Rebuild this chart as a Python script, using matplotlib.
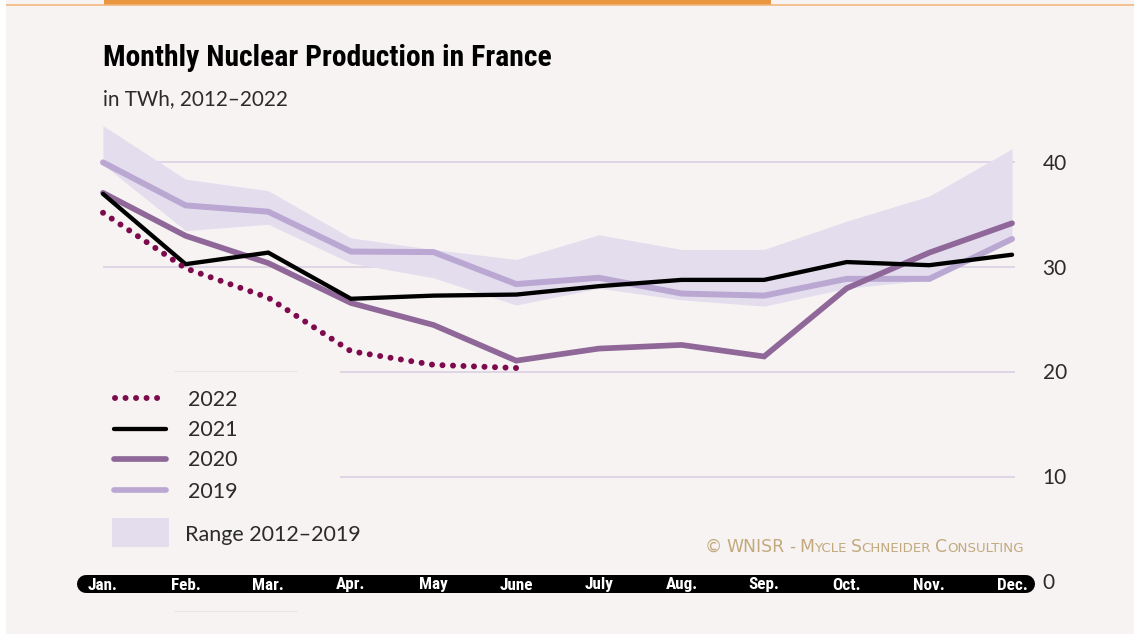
import matplotlib
matplotlib.use("Agg")
import matplotlib.pyplot as plt
from matplotlib import font_manager
from matplotlib.lines import Line2D
from matplotlib.patches import Rectangle
from matplotlib.transforms import Affine2D

# ---------------- data ----------------
months = ["Jan.", "Feb.", "Mar.", "Apr.", "May", "June", "July", "Aug.", "Sep.", "Oct.", "Nov.", "Dec."]
y2022 = [35.2, 29.9, 27.1, 22.0, 20.7, 20.4]
y2021 = [37.0, 30.3, 31.4, 27.0, 27.3, 27.4, 28.2, 28.8, 28.8, 30.5, 30.2, 31.2]
y2020 = [37.1, 33.0, 30.4, 26.6, 24.5, 21.1, 22.25, 22.6, 21.5, 28.0, 31.4, 34.2]
y2019 = [40.0, 35.9, 35.3, 31.5, 31.45, 28.4, 29.0, 27.5, 27.3, 28.9, 28.9, 32.7]
range_hi = [43.5, 38.4, 37.3, 32.8, 31.7, 30.75, 33.1, 31.7, 31.7, 34.4, 36.8, 41.3]
range_lo = [39.8, 33.5, 34.1, 30.4, 29.0, 26.4, 28.0, 26.9, 26.3, 28.0, 28.8, 32.5]
yticks = [0, 10, 20, 30, 40]
legend_labels = ["2022", "2021", "2020", "2019"]
range_label = "Range 2012–2019"
title = "Monthly Nuclear Production in France"
subtitle = "in TWh, 2012–2022"
credit = "© WNISR - Mycle Schneider Consulting"

# ---------------- fonts ----------------
names = {f.name for f in font_manager.fontManager.ttflist}
cond_entries = [f for f in font_manager.fontManager.ttflist
                if f.name == "DejaVu Sans" and "condensed" in str(f.stretch)]
if "Roboto Condensed" in names:
    COND = dict(family="Roboto Condensed")
elif cond_entries:
    COND = dict(family="DejaVu Sans", stretch="condensed")
else:
    COND = dict(family="Roboto")
REG = "Lato" if "Lato" in names else "DejaVu Sans"

# ---------------- colours ----------------
BG = "#f7f3f2"
C2022 = "#7d0a4c"
C2021 = "#000000"
C2020 = "#8f6899"
C2019 = "#baa8d3"
CBAND = "#e3ddee"
CGRID = "#d9cfe3"
TXT = "#2b2b2b"

W, H = 1134, 634
fig = plt.figure(figsize=(W / 100, H / 100), dpi=100, facecolor=BG)
PX = Affine2D().scale(1 / W, -1 / H).translate(0, 1) + fig.transFigure

# axes mapped: month i -> px 103 + 82.64 i ; value v -> px 582 - 10.49 v
left_px, right_px, top_px, bot_px = 77, 1040, 110, 600
ax = fig.add_axes([left_px / W, 1 - bot_px / H, (right_px - left_px) / W, (bot_px - top_px) / H])
ax.set_facecolor("none")
ax.set_xlim((left_px - 103) / 82.64, (right_px - 103) / 82.64)
ax.set_ylim((582 - bot_px) / 10.49, (582 - top_px) / 10.49)
ax.axis("off")

x = list(range(len(months)))

# gridlines
for v in [30, 40]:
    ax.plot([0, 11.04], [v, v], color=CGRID, lw=1.2, zorder=1, solid_capstyle="butt")
for v in [10, 20]:
    ax.plot([2.87, 11.04], [v, v], color=CGRID, lw=1.2, zorder=1, solid_capstyle="butt")

ax.fill_between(x, range_lo, range_hi, color=CBAND, lw=0, zorder=2)
ax.plot(x, y2019, color=C2019, lw=4.3, zorder=3, solid_joinstyle="miter", solid_capstyle="round")
ax.plot(x, y2020, color=C2020, lw=4.1, zorder=4, solid_joinstyle="miter", solid_capstyle="round")
ax.plot(x, y2021, color=C2021, lw=3.1, zorder=5, solid_joinstyle="miter", solid_capstyle="round")
ax.plot(x[:len(y2022)], y2022, color=C2022, lw=4.3, zorder=6,
        linestyle=(0, (0.01, 1.75)), dash_capstyle="round")

# y tick labels on the right
for v in yticks:
    ax.text(11.37, v - 0.12, str(v), ha="left", va="center", fontsize=15, family=REG,
            color=TXT)

# month bar (behind the axes so the labels show on it)
fig.add_artist(Line2D([86, 1026], [584, 584], lw=18 * 0.72, color="black",
                      solid_capstyle="round", transform=PX, zorder=-1))
for i, m in enumerate(months):
    ax.text(i, (582 - 585) / 10.49, m, ha="center", va="center", color="white",
            fontsize=12.3, fontweight="bold", **COND, zorder=10)

# top decoration
fig.add_artist(Rectangle((0, 0), 6, H, color="white", transform=PX, lw=0, zorder=-2))
fig.add_artist(Line2D([6, W], [4.5, 4.5], lw=1.6 * 0.72, color="#f2b47a", transform=PX,
                      solid_capstyle="butt"))
fig.add_artist(Rectangle((104, 0), 667, 4.8, color="#e8963f", transform=PX, lw=0))

# faint legend box edges
for yy in [371, 611]:
    fig.add_artist(Line2D([174, 297], [yy, yy], lw=0.8, color="#ebe5e6", transform=PX))

# titles
fig.text(103 / W, 1 - 58 / H, title, ha="left", va="center", fontsize=21.3,
         fontweight="bold", color="black", **COND)
fig.text(103 / W, 1 - 99 / H, subtitle, ha="left", va="center", fontsize=14.9,
         color=TXT, family=REG)

# legend
leg_y = [398, 429, 459, 490]
styles = [
    dict(color=C2022, lw=4.3, linestyle=(0, (0.01, 1.75)), dash_capstyle="round"),
    dict(color=C2021, lw=3.1, solid_capstyle="round"),
    dict(color=C2020, lw=4.1, solid_capstyle="round"),
    dict(color=C2019, lw=4.1, solid_capstyle="round"),
]
for lab, yy, st in zip(legend_labels, leg_y, styles):
    x0 = 115 if lab == "2022" else 114
    fig.add_artist(Line2D([x0, 166], [yy, yy], transform=PX, **st))
    fig.text(188 / W, 1 - (yy + 1.5) / H, lab, ha="left", va="center", fontsize=15.5,
             family=REG, color=TXT)
fig.add_artist(Rectangle((112, 518), 57, 29, color=CBAND, transform=PX, lw=0))
fig.text(185 / W, 1 - 535 / H, range_label, ha="left", va="center", fontsize=15.5,
         family=REG, color=TXT)

# credit in small caps, fitted to span px 703..1024
renderer = fig.canvas.get_renderer()
segments = []
for word_i, word in enumerate(credit.split(" ")):
    if word_i:
        segments.append((" ", False))
    if word.isupper() or not word[0].isalpha():
        segments.append((word, True))
    else:
        segments.append((word[0], True))
        segments.append((word[1:].upper(), False))
big, small = 9.0, 7.0

def seg_widths(scale):
    ws = []
    for s, is_big in segments:
        t = fig.text(0, 0, s.replace(" ", "\u00a0"), fontsize=(big if is_big else small) * scale,
                     family="DejaVu Sans")
        ws.append(t.get_window_extent(renderer).width)
        t.remove()
    return ws

target = 1024 - 703
ws = seg_widths(1.0)
scale = target / sum(ws)
ws = seg_widths(scale)
xpos = 1024 - sum(ws)
for (s, is_big), w in zip(segments, ws):
    fig.text(xpos / W, 1 - 552 / H, s.replace(" ", "\u00a0"),
             fontsize=(big if is_big else small) * scale, family="DejaVu Sans",
             color="#c2aa7e", ha="left", va="baseline")
    xpos += w

fig.savefig("out.png", dpi=100, facecolor=BG)
